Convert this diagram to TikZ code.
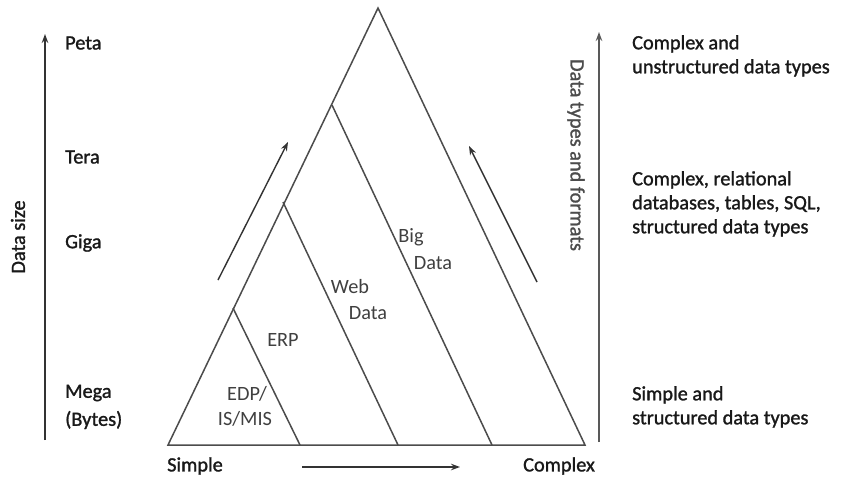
\documentclass[tikz,border=0pt]{standalone}
\usepackage{fontspec}
\setmainfont{Carlito}
\newfontfamily\heavy[FakeBold=1.3]{Carlito}
\usetikzlibrary{arrows.meta}
\begin{document}
\begin{tikzpicture}[x=1pt,y=-1pt,
  tri/.style={draw=black!70,line width=1.5pt,line join=miter},
  sep/.style={draw=black!70,line width=1.5pt},
  arr/.style={draw=black!80,line width=1.4pt,-{Stealth[length=9pt,width=6.5pt]}},
  lbl/.style={font=\heavy\fontsize{20.3}{24}\selectfont,text=black!90,inner sep=0pt,anchor=west},
  inl/.style={font=\fontsize{20.3}{24}\selectfont,text=black!75,inner sep=0pt},
  rtx/.style={font=\heavy\fontsize{20.3}{24}\selectfont,text=black!90,inner sep=0pt,anchor=north west,align=left}]
\useasboundingbox[fill=white] (0,0) rectangle (863,477);
% main triangle
\coordinate (A) at (378,8);
\coordinate (L) at (168,445);
\coordinate (R) at (585,445);
\draw[tri] (L) -- (A) -- (R) -- cycle;
% separators
\coordinate (s1a) at (332,105); \coordinate (s1b) at (492,445);
\coordinate (s2a) at (283,202); \coordinate (s2b) at (398,445);
\coordinate (s3a) at (233,308); \coordinate (s3b) at (300,445);
\draw[sep] (s1a) -- (s1b);
\draw[sep] (s2a) -- (s2b);
\draw[sep] (s3a) -- (s3b);
% diagonal arrows
\coordinate (d1a) at (218,280); \coordinate (d1b) at (288,142);
\coordinate (d2a) at (537,282); \coordinate (d2b) at (469,146);
\draw[arr] (d1a) -- (d1b);
\draw[arr] (d2a) -- (d2b);
% vertical arrows
\coordinate (v1a) at (45,440); \coordinate (v1b) at (45,34);
\coordinate (v2a) at (599,442); \coordinate (v2b) at (599,32);
\draw[arr] (v1a) -- (v1b);
\draw[arr,draw=black!65] (v2a) -- (v2b);
% bottom arrow
\coordinate (h1) at (302,467); \coordinate (h2) at (460,467);
\draw[arr] (h1) -- (h2);
% left labels
\node[lbl] (peta) at (65,43) {Peta};
\node[lbl] (tera) at (65,157) {Tera};
\node[lbl] (giga) at (65,243) {Giga};
\node[lbl] (mega) at (65,393) {Mega};
\node[lbl] (bytes) at (65,420) {(Bytes)};
\node[lbl,anchor=center,rotate=90] (dsize) at (18,237) {Data size};
\node[inl,font=\heavy\fontsize{20.3}{24}\selectfont,text=black!70,rotate=-90] (dtypes) at (576,155) {Data types and formats};
% inner labels
\node[inl] (edp) at (247,394) {EDP/};
\node[inl] (mis) at (245,419) {IS/MIS};
\node[inl] (erp) at (283,340) {ERP};
\node[inl] (web) at (350,287) {Web};
\node[inl] (webd) at (368,313) {Data};
\node[inl] (big) at (411,237) {Big};
\node[inl] (bigd) at (433,263) {Data};
% right labels
\node[rtx] (r1) at (632,35) {Complex and\\unstructured data types};
\node[rtx] (r2) at (632,171) {Complex, relational\\databases, tables, SQL,\\structured data types};
\node[rtx] (r3) at (632,386) {Simple and\\structured data types};
% bottom labels
\node[lbl] (simple) at (167,466) {Simple};
\node[lbl] (complex) at (523,466) {Complex};
\end{tikzpicture}
\end{document}
